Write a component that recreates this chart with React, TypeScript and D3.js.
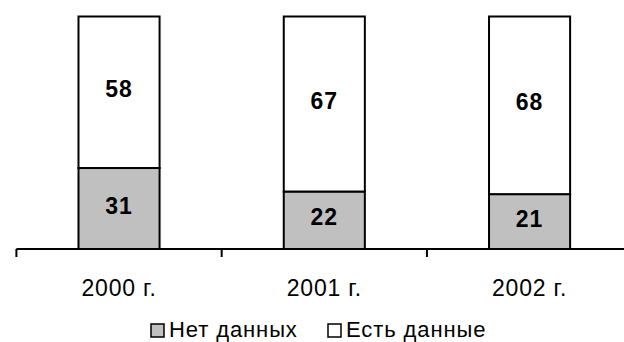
import React from "react";
import * as d3 from "d3";

const years = ["2000 г.", "2001 г.", "2002 г."];
const noData = [31, 22, 21];
const hasData = [58, 67, 68];
const seriesNames = ["Нет данных", "Есть данные"];
const seriesKeys = ["noData", "hasData"];
const seriesFill = ["#c0c0c0", "#ffffff"];

const W = 624;
const H = 342;
const FONT = "'Liberation Sans', Arial, sans-serif";

export default function App() {
  const rows = years.map((y, i) => ({ year: y, noData: noData[i], hasData: hasData[i] }));

  // 100% stacked columns
  const stacked = d3.stack<any>().keys(seriesKeys).offset(d3.stackOffsetExpand)(rows);

  const x = d3.scaleBand<string>().domain(years).range([16.4, 632.2]).padding(0);
  const y = d3.scaleLinear().domain([0, 1]).range([249, 16.5]);
  const barW = x.bandwidth() * 0.395;
  const boundaries = [...years.map((c) => x(c)!), x(years[years.length - 1])! + x.bandwidth()];

  return (
    <svg width={W} height={H} style={{ position: "absolute", left: 0, top: 0, background: "#fff" }}
      fontFamily={FONT}>
      {stacked.map((layer, si) => (
        <g key={layer.key}>
          {layer.map((seg, i) => {
            const cx = x(years[i])! + x.bandwidth() / 2;
            const y0 = y(seg[0]);
            const y1 = y(seg[1]);
            const value = si === 0 ? noData[i] : hasData[i];
            return (
              <g key={i}>
                <rect x={cx - barW / 2} y={y1} width={barW} height={y0 - y1}
                  fill={seriesFill[si]} stroke="#000" strokeWidth={2} />
                <text x={cx} y={(y0 + y1) / 2 - 3} dy="0.35em" textAnchor="middle"
                  fontWeight="bold" fontSize={23} letterSpacing={1} fill="#000">{value}</text>
              </g>
            );
          })}
        </g>
      ))}
      {/* category axis */}
      <line x1={x.range()[0]} x2={x.range()[1]} y1={249} y2={249} stroke="#000" strokeWidth={2} />
      {boundaries.map((b, i) => (
        <line key={i} x1={b} x2={b} y1={249} y2={257} stroke="#000" strokeWidth={2} />
      ))}
      {years.map((c) => (
        <text key={c} x={x(c)! + x.bandwidth() / 2} y={296} textAnchor="middle" fontSize={23}
          letterSpacing={0.8} fill="#000">{c}</text>
      ))}
      {/* legend */}
      {seriesNames.map((n, i) => {
        const lx = [151, 328][i];
        return (
          <g key={n}>
            <rect x={lx} y={324} width={13} height={13} fill={seriesFill[i]} stroke="#000" strokeWidth={1.5} />
            <text x={lx + 18} y={337} fontSize={22} letterSpacing={0.9} fill="#000">{n}</text>
          </g>
        );
      })}
    </svg>
  );
}
